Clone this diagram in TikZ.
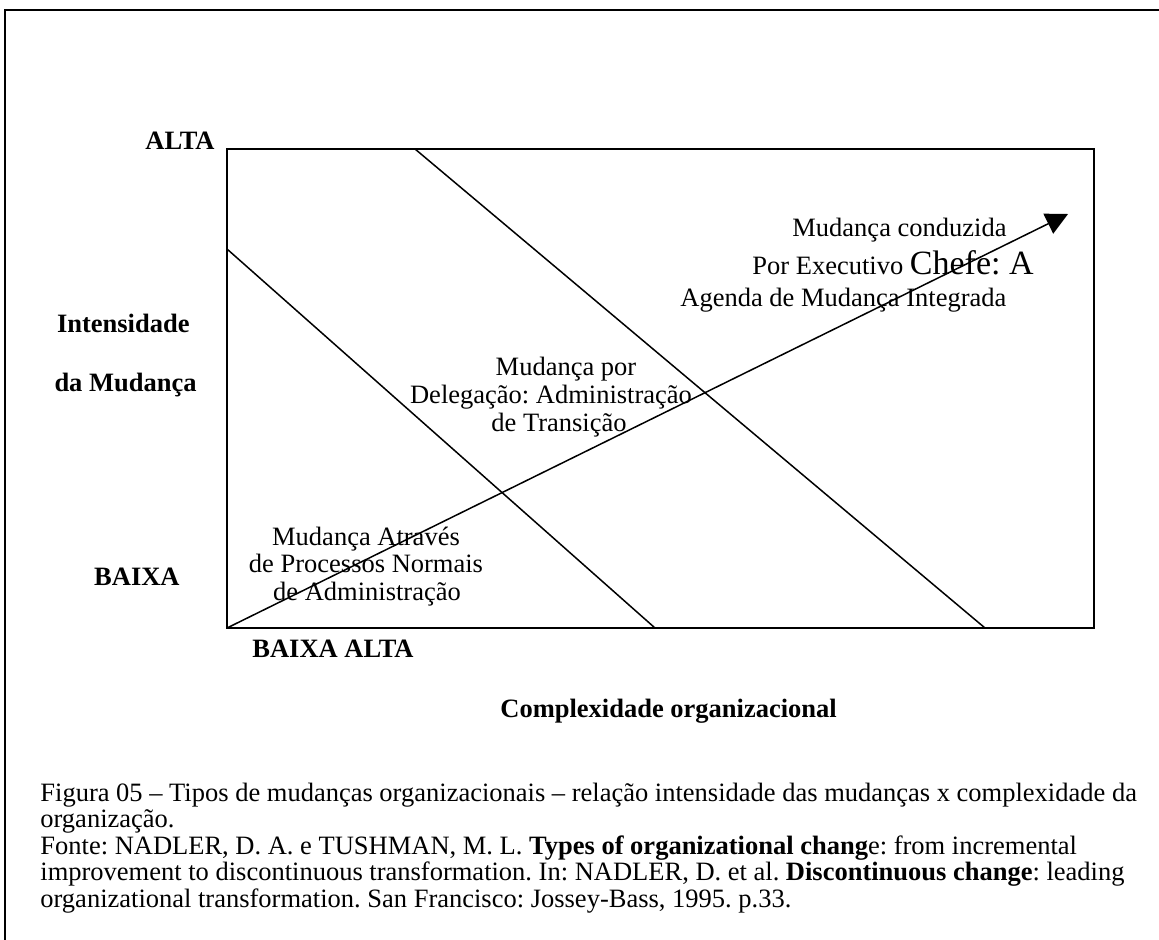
\documentclass[tikz,border=0pt]{standalone}
\usepackage{fontspec}
\setmainfont{Liberation Serif}
\usetikzlibrary{arrows.meta}
\frenchspacing
\begin{document}
\begin{tikzpicture}[x=0.5pt,y=-0.5pt,
  frameline/.style={line width=1pt},
  boxline/.style={line width=1pt},
  diag/.style={line width=0.75pt},
  arrowline/.style={line width=0.75pt,-{Triangle[length=11pt,width=11pt]}},
  lbl/.style={inner sep=0pt,font=\fontsize{13.25}{15}\selectfont\frenchspacing},
  blbl/.style={inner sep=0pt,font=\fontsize{13.25}{15}\selectfont\bfseries\frenchspacing},
]
\useasboundingbox (0,0) rectangle (1159,940);
% outer frame (top and left visible)
\coordinate (ftl) at (4.5,10);
\coordinate (ftr) at (1159,10);
\coordinate (fbl) at (4.5,940);
\draw[frameline] (fbl) -- (ftl) -- (ftr);
% inner box
\coordinate (bll) at (227,628);
\coordinate (bur) at (1094,149);
\draw[boxline] (bll) rectangle (bur);
% diagonals
\coordinate (a1) at (227,249);
\coordinate (a2) at (655,628);
\coordinate (b1) at (415,149);
\coordinate (b2) at (985,628);
\draw[diag] (a1) -- (a2);
\draw[diag] (b1) -- (b2);
% arrow
\coordinate (tip) at (1068,214);
\draw[arrowline] (bll) -- (tip);
% axis labels
\node[blbl,anchor=base east] (alta) at (215,150) {ALTA};
\node[blbl,anchor=base east] (int1) at (190,333) {Intensidade};
\node[blbl,anchor=base east] (int2) at (197,392) {da Mudança};
\node[blbl,anchor=base east] (baixa) at (180,585) {BAIXA};
\node[blbl,anchor=base west] (xlab) at (252,657) {BAIXA ALTA};
\node[blbl,anchor=base west] (cx) at (500,717) {Complexidade organizacional};
% region texts
\node[lbl,anchor=base west] (r3a) at (792,237) {Mudança conduzida};
\node[lbl,anchor=base west] (r3b) at (752,275) {Por Executivo {\fontsize{17}{20}\selectfont Chefe: A}};
\node[lbl,anchor=base west] (r3c) at (680,307) {Agenda de Mudança Integrada};
\node[lbl,anchor=base] (r2a) at (566,375) {Mudança por};
\node[lbl,anchor=base] (r2b) at (551,403) {Delegação: Administração};
\node[lbl,anchor=base] (r2c) at (559,431) {de Transição};
\node[lbl,anchor=base] (r1a) at (366,545) {Mudança Através};
\node[lbl,anchor=base] (r1b) at (366,572) {de Processos Normais};
\node[lbl,anchor=base] (r1c) at (367,600) {de Administração};
% caption
\node[lbl,anchor=base west] (c1) at (40,801) {Figura 05 – Tipos de mudanças organizacionais – relação intensidade das mudanças x complexidade da};
\node[lbl,anchor=base west] (c2) at (40,827.5) {organização.};
\node[lbl,anchor=base west] (c3) at (40,854) {Fonte: NADLER, D. A. e TUSHMAN, M. L. \textbf{Types of organizational chang}e: from incremental};
\node[lbl,anchor=base west] (c4) at (40,880.5) {improvement to discontinuous transformation. In: NADLER, D. et al. \textbf{Discontinuous change}: leading};
\node[lbl,anchor=base west] (c5) at (40,907) {organizational transformation. San Francisco: Jossey-Bass, 1995. p.33.};
\end{tikzpicture}
\end{document}
